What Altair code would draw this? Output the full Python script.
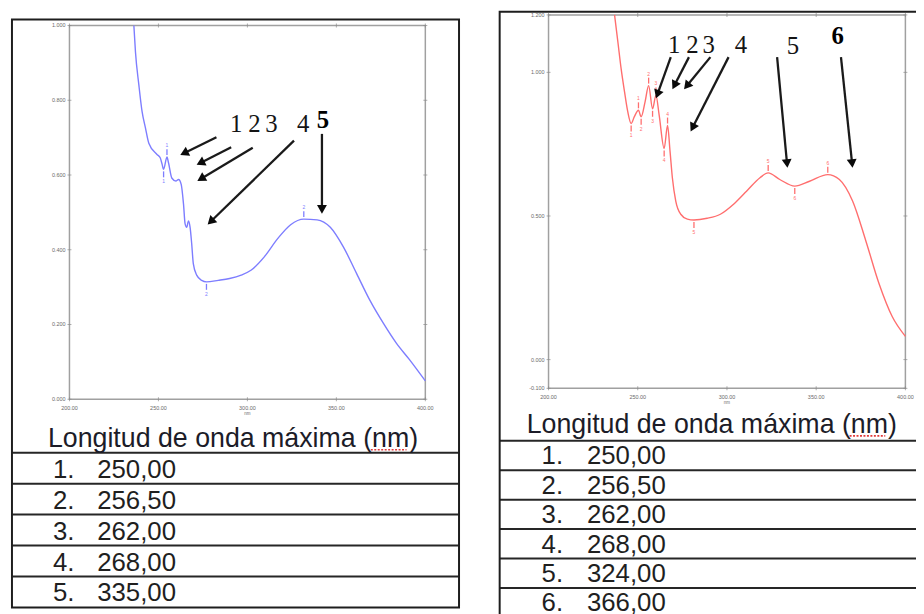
import math
import altair as alt
import pandas as pd

# ---------------- data ----------------
# left spectrum (blue)
wl_blue = [236.2, 237.1, 239.0, 240.8, 242.7, 244.6, 249.2, 251.0, 252.0, 252.9, 254.8,
           255.7, 257.5, 259.8, 261.3, 262.8, 264.1, 265.0, 265.9, 266.9, 267.8, 268.7,
           269.6, 271.5, 274.3, 277.0, 283.6, 290.0, 296.5, 302.0, 309.5, 316.9, 324.3,
           331.7, 339.2, 346.6, 354.0, 361.4, 368.8, 376.3, 383.7, 391.1, 400.0]
abs_blue = [1.000, 0.929, 0.841, 0.770, 0.726, 0.685, 0.655, 0.646, 0.630, 0.615, 0.648,
            0.632, 0.592, 0.584, 0.588, 0.575, 0.522, 0.469, 0.460, 0.477, 0.460, 0.416,
            0.363, 0.332, 0.318, 0.314, 0.318, 0.323, 0.332, 0.345, 0.381, 0.429, 0.467,
            0.482, 0.480, 0.460, 0.407, 0.336, 0.265, 0.204, 0.150, 0.106, 0.049]
blue_peak_wl = [254.8, 331.7]
blue_peak_abs = [0.648, 0.482]
blue_valley_wl = [252.9, 277.0]
blue_valley_abs = [0.615, 0.314]

# right spectrum (red)
wl_red = [237.0, 238.9, 240.7, 242.6, 244.4, 246.3, 248.1, 250.4, 251.9, 254.1, 256.1,
          258.3, 260.2, 262.0, 264.8, 266.7, 268.1, 269.4, 271.3, 274.1, 277.8, 281.5,
          288.9, 296.3, 303.7, 311.1, 318.5, 323.1, 329.6, 338.0, 346.3, 356.5, 363.0,
          370.4, 377.8, 385.2, 392.6, 400.0]
abs_red = [1.200, 1.104, 1.012, 0.932, 0.863, 0.822, 0.846, 0.868, 0.845, 0.897, 0.954,
           0.873, 0.920, 0.851, 0.735, 0.815, 0.725, 0.633, 0.552, 0.506, 0.489, 0.486,
           0.492, 0.506, 0.541, 0.587, 0.633, 0.650, 0.627, 0.604, 0.621, 0.644, 0.627,
           0.552, 0.414, 0.265, 0.150, 0.081]
red_peak_wl = [250.4, 256.1, 260.2, 266.7, 323.1, 356.5]
red_peak_abs = [0.868, 0.954, 0.920, 0.815, 0.650, 0.644]
red_valley_wl = [246.3, 251.9, 258.3, 264.8, 281.5, 338.0]
red_valley_abs = [0.822, 0.845, 0.873, 0.735, 0.486, 0.604]

# axis ticks
x_ticks = [200, 250, 300, 350, 400]
y_ticks_left = [0.0, 0.2, 0.4, 0.6, 0.8, 1.0]
y_ticks_right = [-0.1, 0.0, 0.5, 1.0, 1.2]
x_unit = "nm"

# annotation numbers (data coordinates)
lab_left_text = ["1", "2", "3", "4", "5"]
lab_left_wl = [293.7, 303.9, 313.5, 331.4, 342.5]
lab_left_abs = [0.736, 0.736, 0.736, 0.735, 0.748]
lab_left_bold = [False, False, False, False, True]
lab_right_text = ["1", "2", "3", "4", "5", "6"]
lab_right_wl = [270.4, 280.6, 289.8, 307.8, 337.0, 362.0]
lab_right_abs = [1.095, 1.095, 1.095, 1.095, 1.093, 1.127]
lab_right_bold = [False, False, False, False, False, True]

# arrows: start -> tip (data coordinates)
arr_left_x1 = [282.6, 290.9, 303.0, 326.2, 341.9]
arr_left_y1 = [0.701, 0.674, 0.673, 0.692, 0.710]
arr_left_x2 = [262.2, 271.4, 271.8, 277.6, 341.9]
arr_left_y2 = [0.653, 0.627, 0.584, 0.467, 0.496]
arr_right_x1 = [268.5, 278.7, 290.7, 300.9, 328.1, 363.9]
arr_right_y1 = [1.053, 1.053, 1.053, 1.053, 1.053, 1.053]
arr_right_x2 = [260.2, 269.4, 275.9, 279.6, 333.9, 370.4]
arr_right_y2 = [0.909, 0.941, 0.941, 0.794, 0.667, 0.667]

# tables
table_title = "Longitud de onda máxima (nm)"
table_left = ["250,00", "256,50", "262,00", "268,00", "335,00"]
table_right = ["250,00", "256,50", "262,00", "268,00", "324,00", "366,00"]

LABEL_FONT = "Liberation Sans"
W, H = 916, 606   # whole drawing (page is 924 x 614 with an 8 px margin)


def spectrum(wl, ab, color, ydom, yticks, xr, yr,
             pk_wl, pk_ab, vl_wl, vl_ab,
             lab_t, lab_x, lab_y, lab_b,
             ax1, ay1, ax2, ay2):
    xs = alt.Scale(domain=[200, 400], range=xr, nice=False, zero=False)
    ys = alt.Scale(domain=ydom, range=yr, nice=False, zero=False)
    kx = (xr[1] - xr[0]) / 200.0
    ky = (yr[0] - yr[1]) / (ydom[1] - ydom[0])

    def X(f):
        return alt.X(f, scale=xs, axis=None)

    def Y(f):
        return alt.Y(f, scale=ys, axis=None)

    box_df = pd.DataFrame({"x0": [200], "x1": [400], "y0": [ydom[0]], "y1": [ydom[1]]})
    box = alt.Chart(box_df).mark_rect(fillOpacity=0, stroke="#a0a0a0", strokeWidth=1.5).encode(
        x=X("x0:Q"), x2="x1:Q", y=Y("y0:Q"), y2="y1:Q")

    xt = pd.DataFrame({"x": x_ticks, "lab": [f"{v:.2f}" for v in x_ticks],
                       "yb": [ydom[0]] * len(x_ticks), "yt": [ydom[1]] * len(x_ticks)})
    yt = pd.DataFrame({"y": yticks, "lab": [f"{v:.3f}" for v in yticks],
                       "xl": [200] * len(yticks), "xr": [400] * len(yticks)})
    tick_style = dict(color="#8a8a8a", thickness=1, size=4)
    tx_top = alt.Chart(xt).mark_tick(orient="vertical", **tick_style).encode(x=X("x:Q"), y=Y("yt:Q"))
    tx_bot = alt.Chart(xt).mark_tick(orient="vertical", **tick_style).encode(x=X("x:Q"), y=Y("yb:Q"))
    ty_l = alt.Chart(yt).mark_tick(orient="horizontal", **tick_style).encode(y=Y("y:Q"), x=X("xl:Q"))
    ty_r = alt.Chart(yt).mark_tick(orient="horizontal", **tick_style).encode(y=Y("y:Q"), x=X("xr:Q"))

    lab_style = dict(font=LABEL_FONT, fontSize=5.5, color="#6a6a6a", baseline="middle")
    xl = alt.Chart(xt).mark_text(align="center", dy=9, **lab_style).encode(
        x=X("x:Q"), y=Y("yb:Q"), text="lab:N")
    yl = alt.Chart(yt).mark_text(align="right", dx=-4, **lab_style).encode(
        x=X("xl:Q"), y=Y("y:Q"), text="lab:N")
    unit_df = pd.DataFrame({"x": [(x_ticks[0] + x_ticks[-1]) / 2], "y": [ydom[0]], "t": [x_unit]})
    unit = alt.Chart(unit_df).mark_text(align="center", dy=15, font=LABEL_FONT, fontSize=4.5,
                                        color="#6a6a6a", baseline="middle").encode(
        x=X("x:Q"), y=Y("y:Q"), text="t:N")

    line_df = pd.DataFrame({"wl": wl, "a": ab})
    line = alt.Chart(line_df).mark_line(color=color, strokeWidth=1.4, interpolate="monotone").encode(
        x=X("wl:Q"), y=Y("a:Q"))

    pk = pd.DataFrame({"wl": pk_wl, "a": pk_ab, "n": [str(i + 1) for i in range(len(pk_wl))]})
    vl = pd.DataFrame({"wl": vl_wl, "a": vl_ab, "n": [str(i + 1) for i in range(len(vl_wl))]})
    pk_rule = alt.Chart(pk).mark_rule(color=color, strokeWidth=1.3, yOffset=-2, y2Offset=-8).encode(
        x=X("wl:Q"), y=Y("a:Q"), y2="a:Q")
    pk_txt = alt.Chart(pk).mark_text(color=color, fontSize=5, dy=-12, font=LABEL_FONT).encode(
        x=X("wl:Q"), y=Y("a:Q"), text="n:N")
    vl_rule = alt.Chart(vl).mark_rule(color=color, strokeWidth=1.3, yOffset=2, y2Offset=8).encode(
        x=X("wl:Q"), y=Y("a:Q"), y2="a:Q")
    vl_txt = alt.Chart(vl).mark_text(color=color, fontSize=5, dy=12, font=LABEL_FONT).encode(
        x=X("wl:Q"), y=Y("a:Q"), text="n:N")

    lab_df = pd.DataFrame({"t": lab_t, "wl": lab_x, "a": lab_y, "b": lab_b})
    lab_n = alt.Chart(lab_df[~lab_df["b"]]).mark_text(
        font="Liberation Serif", fontSize=25, color="#141414", baseline="middle").encode(
        x=X("wl:Q"), y=Y("a:Q"), text="t:N")
    lab_b_ch = alt.Chart(lab_df[lab_df["b"]]).mark_text(
        font="Liberation Serif", fontSize=25, fontWeight="bold", color="#000", baseline="middle").encode(
        x=X("wl:Q"), y=Y("a:Q"), text="t:N")

    rows = []
    for a, b, c, d in zip(ax1, ay1, ax2, ay2):
        dxp = (c - a) * kx
        dyp = -(d - b) * ky
        ln = math.hypot(dxp, dyp)
        ux, uy = dxp / ln, dyp / ln
        ang = math.degrees(math.atan2(ux, -uy)) % 360
        hx = c - ux * 4.5 / kx
        hy = d + uy * 4.5 / ky
        sx = c - ux * 6 / kx
        sy = d + uy * 6 / ky
        rows.append({"x1": a, "y1": b, "sx": sx, "sy": sy, "hx": hx, "hy": hy, "ang": ang})
    arr_df = pd.DataFrame(rows)
    shafts = alt.Chart(arr_df).mark_rule(color="#1a1a1a", strokeWidth=2.3).encode(
        x=X("x1:Q"), y=Y("y1:Q"), x2="sx:Q", y2="sy:Q")
    heads = alt.Chart(arr_df).mark_point(shape="triangle-up", filled=True, size=100,
                                         color="#0a0a0a", opacity=1).encode(
        x=X("hx:Q"), y=Y("hy:Q"), angle=alt.Angle("ang:Q", scale=None))

    return alt.layer(box, tx_top, tx_bot, ty_l, ty_r, xl, yl, unit, line,
                     pk_rule, pk_txt, vl_rule, vl_txt, lab_n, lab_b_ch, shafts, heads)


def table(values, n_bounds, trange, x0, x1, num_x, val_x, title_x, title_dy, n_lines,
          squig_x0, squig_x1):
    ts = alt.Scale(domain=[0, n_bounds], range=trange, nice=False, zero=False)

    def Y(f):
        return alt.Y(f, scale=ts, axis=None)

    rules_df = pd.DataFrame({"b": list(range(n_lines))})
    rules = alt.Chart(rules_df).mark_rule(color="#262626", strokeWidth=2).encode(
        y=Y("b:Q"), x=alt.value(x0), x2=alt.value(x1))
    rows_df = pd.DataFrame({"pos": [i + 1 for i in range(len(values))],
                            "num": [f"{i + 1}." for i in range(len(values))],
                            "val": values})
    style = dict(font=LABEL_FONT, fontSize=26, color="#1f1f1f", baseline="alphabetic", dy=-6)
    nums = alt.Chart(rows_df).mark_text(align="right", **style).encode(
        y=Y("pos:Q"), x=alt.value(num_x), text="num:N")
    vals = alt.Chart(rows_df).mark_text(align="left", **style).encode(
        y=Y("pos:Q"), x=alt.value(val_x), text="val:N")
    title_df = pd.DataFrame({"pos": [0], "t": [table_title]})
    title = alt.Chart(title_df).mark_text(
        align="center", baseline="alphabetic", font=LABEL_FONT, fontSize=27,
        color="#1c1c28", dy=title_dy).encode(
        y=Y("pos:Q"), x=alt.value(title_x), text="t:N")
    squig = alt.Chart(title_df).mark_rule(
        color="#e23a3a", strokeWidth=1.6, strokeDash=[2, 1.5], yOffset=title_dy + 3).encode(
        y=Y("pos:Q"), x=alt.value(squig_x0), x2=alt.value(squig_x1))
    return alt.layer(rules, nums, vals, title, squig)


left_spec = spectrum(wl_blue, abs_blue, "#7d7dff", [0.0, 1.0], y_ticks_left,
                     [62, 421], [392, 15],
                     blue_peak_wl, blue_peak_abs, blue_valley_wl, blue_valley_abs,
                     lab_left_text, lab_left_wl, lab_left_abs, lab_left_bold,
                     arr_left_x1, arr_left_y1, arr_left_x2, arr_left_y2)
left_tab = table(table_left, 5, [446, 602], 4, 455, 67, 90, 227, -6, 5, 366, 402)

right_spec = spectrum(wl_red, abs_red, "#ff6e6e", [-0.1, 1.2], y_ticks_right,
                      [545.3, 905.3], [381, 4.3],
                      red_peak_wl, red_peak_abs, red_valley_wl, red_valley_abs,
                      lab_right_text, lab_right_wl, lab_right_abs, lab_right_bold,
                      arr_right_x1, arr_right_y1, arr_right_x2, arr_right_y2)
right_tab = table(table_right, 6, [434, 612], 496, W, 560, 584, 710, -8, 6, 849, 885)

# outer frames of the two panels
frame_df = pd.DataFrame({"panel": ["left", "right"]})
frame_left = alt.Chart(frame_df.iloc[[0]]).mark_rect(
    fillOpacity=0, stroke="#1e1e1e", strokeWidth=2).encode(
    x=alt.value(4), x2=alt.value(455), y=alt.value(9), y2=alt.value(602))
frame_right = alt.Chart(frame_df.iloc[[1]]).mark_rect(
    fillOpacity=0, stroke="#1e1e1e", strokeWidth=2).encode(
    x=alt.value(496), x2=alt.value(W + 10), y=alt.value(1), y2=alt.value(H + 10))

chart = alt.layer(left_spec, left_tab, right_spec, right_tab, frame_left, frame_right).resolve_scale(
    x="independent", y="independent"
).properties(
    width=W, height=H, padding=0,
    autosize=alt.AutoSizeParams(type="none"),
    background="white",
).configure_view(strokeWidth=0)

chart.save("out.html", embed_options={"renderer": "svg", "actions": False})
